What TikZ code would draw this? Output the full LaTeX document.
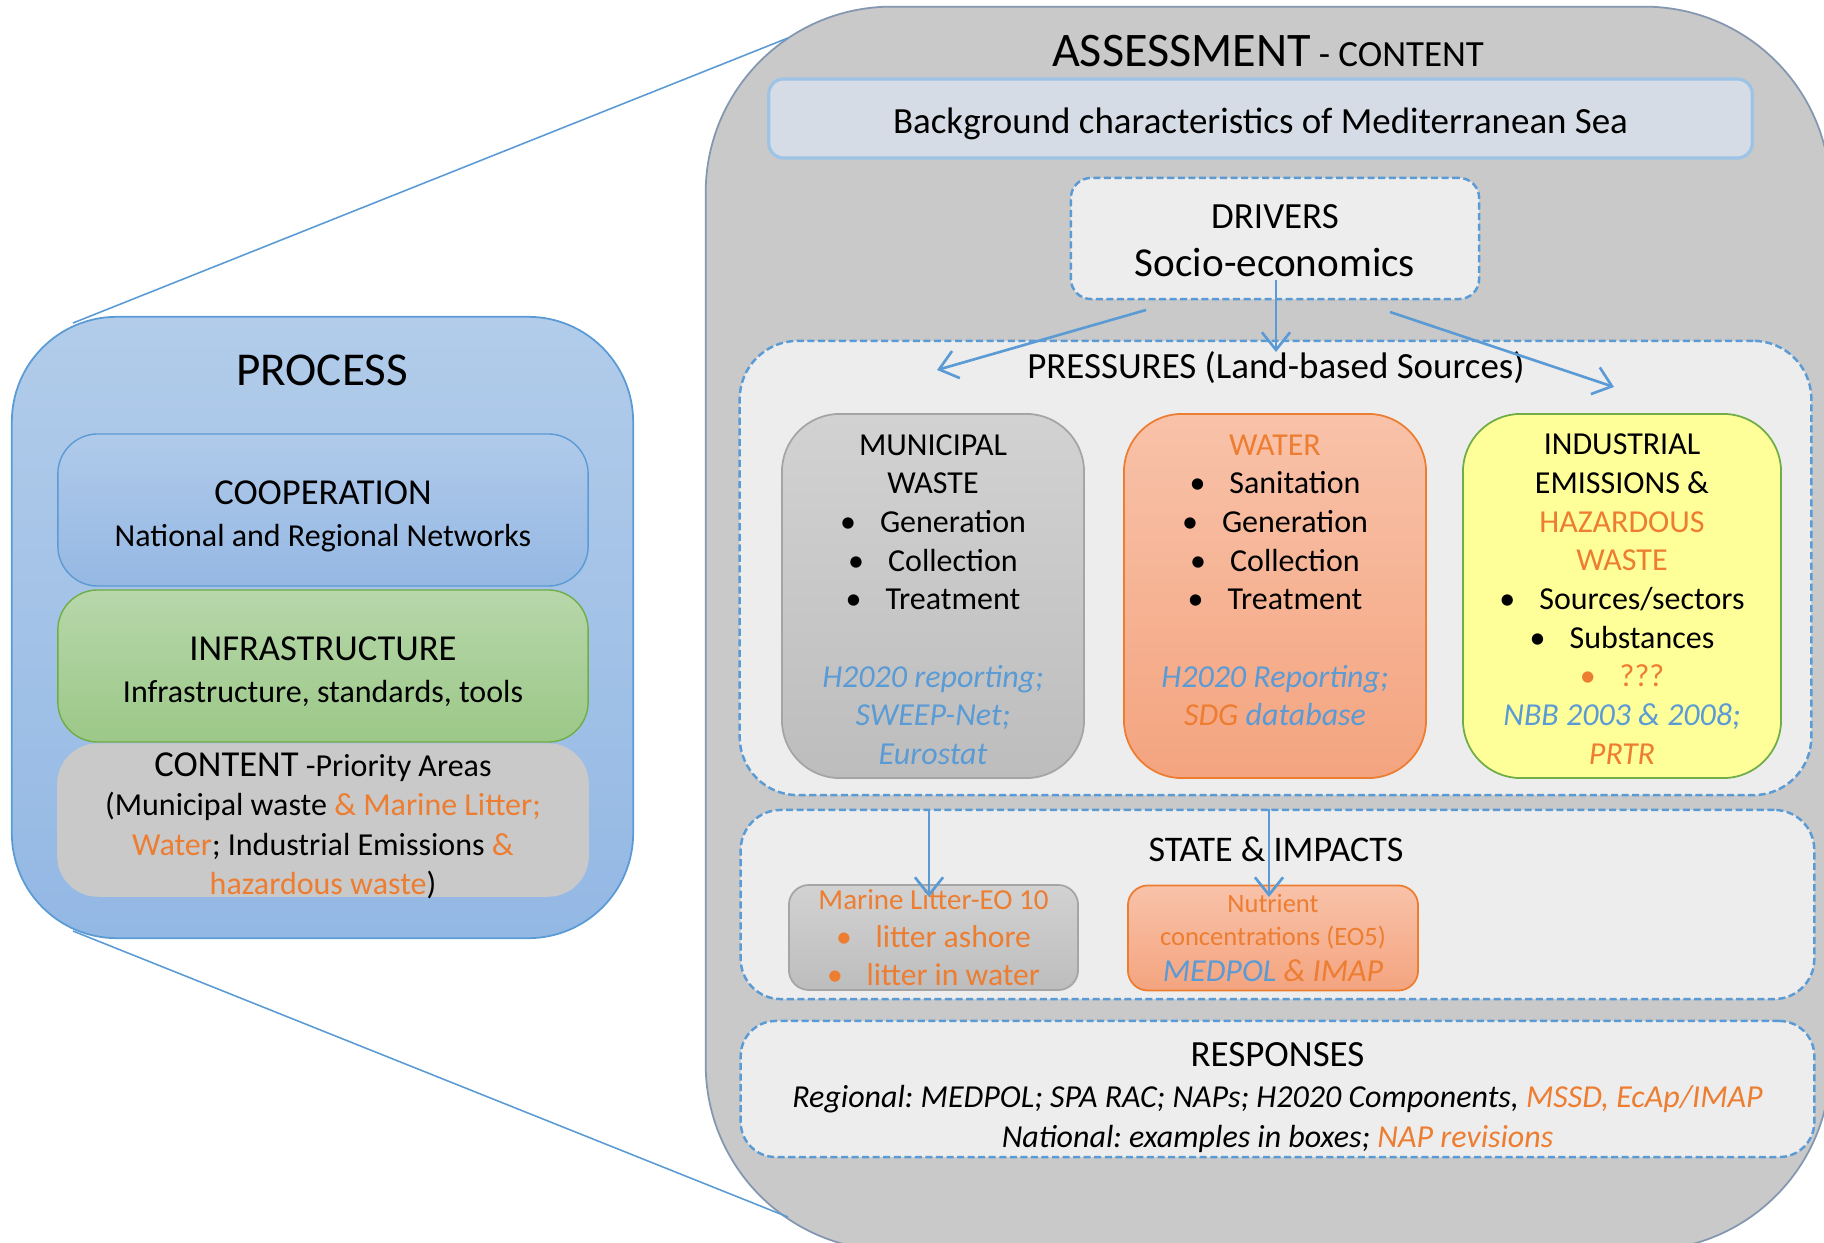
\documentclass[tikz,border=0pt]{standalone}
\usepackage{fontspec}
\setmainfont{Carlito}
\usetikzlibrary{arrows.meta}
\definecolor{accblue}{HTML}{5B9BD5}
\definecolor{accorange}{HTML}{ED7D31}
\definecolor{accgreen}{HTML}{70AD47}
\definecolor{panelgray}{HTML}{C9C9C9}
\definecolor{paneledge}{HTML}{8497B0}
\definecolor{boxgray}{HTML}{EDEDED}
\definecolor{bgfill}{HTML}{D6DCE5}
\definecolor{bgedge}{HTML}{9DC3E6}
\definecolor{procTop}{HTML}{B2CCEA}
\definecolor{procBot}{HTML}{93B8E4}
\definecolor{coopTop}{HTML}{B0CAEA}
\definecolor{coopBot}{HTML}{95B8E3}
\definecolor{greenTop}{HTML}{B7D7AA}
\definecolor{greenBot}{HTML}{9CC888}
\definecolor{grayTop}{HTML}{D2D2D2}
\definecolor{grayBot}{HTML}{BDBDBD}
\definecolor{grayEdge}{HTML}{A5A5A5}
\definecolor{orTop}{HTML}{F8C2A9}
\definecolor{orBot}{HTML}{F4A47F}
\definecolor{yellowFill}{HTML}{FFFF99}
\newcommand\fsz[2]{\fontsize{#1pt}{#2pt}\selectfont}
\newcommand\org[1]{\textcolor{accorange}{#1}}
\newcommand\blu[1]{\textcolor{accblue}{#1}}
\newcommand\bulitem{•\hspace{0.75em}}
\frenchspacing
\begin{document}
\begin{tikzpicture}[x=0.01cm,y=-0.01cm,
  conn/.style={draw=accblue,line width=0.45pt},
  flow/.style={draw=accblue,line width=0.75pt,-{Straight Barb[length=5pt,width=8pt,line width=0.75pt]}},
  sub/.style={rounded corners=0.4cm,line width=0.4pt,minimum width=5.3cm,minimum height=1.52cm,inner sep=0pt},
  dashbox/.style={fill=boxgray,draw=accblue,line width=0.7pt,dash pattern=on 2pt off 1pt,inner sep=0pt},
  srcbox/.style={rounded corners=0.58cm,line width=0.5pt,minimum width=3.02cm,minimum height=3.64cm,inner sep=0pt},
  smallbox/.style={rounded corners=0.2cm,line width=0.5pt,minimum width=2.9cm,minimum height=1.05cm,inner sep=0pt,align=center},
  title/.style={inner sep=0pt,align=center}]
\useasboundingbox (0,0) rectangle (1824,1243);
\begin{scope}
\clip (0,0) rectangle (1824,1243);
% ---------------- left panel
\node[rounded corners=1.05cm, draw=accblue, line width=0.5pt, top color=procTop, bottom color=procBot,
      minimum width=6.21cm, minimum height=6.21cm, inner sep=0pt] (process) at (322.5,627.5) {};
\node[title, font=\fsz{13.4}{16}] (processtitle) at (322,370) {PROCESS};
\node[sub, draw=accblue, top color=coopTop, bottom color=coopBot] (coop) at (323,510) {};
\node[title, font=\fsz{9.1}{11.95}] (cooptext) at ([yshift=-0.06cm]coop.center)
  {{\fsz{10.4}{11.95}COOPERATION}\\National and Regional Networks};
\node[sub, draw=accgreen, top color=greenTop, bottom color=greenBot] (infra) at (323,666) {};
\node[title, font=\fsz{9.1}{11.95}] (infratext) at ([yshift=-0.06cm]infra.center)
  {{\fsz{10.4}{11.95}INFRASTRUCTURE}\\Infrastructure, standards, tools};
\node[sub, draw=panelgray, fill=panelgray] (content) at (323,820) {};
\node[title, font=\fsz{9.1}{11.2}] (contenttext) at ([yshift=-0.06cm]content.center)
  {{\fsz{10.4}{11.2}CONTENT} -Priority Areas\\(Municipal waste \org{\& Marine Litter;}\\\org{Water}; Industrial Emissions \org{\&}\\\org{hazardous waste})};
% ---------------- right panel
\node[rounded corners=1.86cm, draw=paneledge, line width=0.5pt, fill=panelgray,
      minimum width=11.24cm, minimum height=12.43cm, inner sep=0pt] (assess) at (1268,628.5) {};
% connectors between the panels
\coordinate (ptop) at (73,323);
\coordinate (atop) at (788,38);
\coordinate (pbot) at (73,931);
\coordinate (abot) at (788,1217);
\draw[conn] (ptop) -- (atop);
\draw[conn] (pbot) -- (abot);
\node[title] (assesstitle) at (1268,51) {{\fsz{13.7}{16}ASSESSMENT} {\fsz{10.5}{12}- CONTENT}};
\node[rounded corners=0.15cm, draw=bgedge, line width=0.9pt, fill=bgfill, minimum width=9.83cm,
      minimum height=0.79cm, inner sep=0pt] (bg) at (1260.5,118.5) {};
\node[title, font=\fsz{10.5}{12}] (bgtext) at ([yshift=-0.05cm]bg.center)
  {Background characteristics of Mediterranean Sea};
\node[dashbox, rounded corners=0.2cm, minimum width=4.08cm, minimum height=1.21cm] (drivers) at (1275,238.5) {};
\node[title, font=\fsz{10.5}{13.66}] (driverstext) at ([yshift=-0.02cm]drivers.center)
  {DRIVERS\\{\fsz{11.7}{13.66}Socio-economics}};
% pressures
\node[dashbox, rounded corners=0.58cm, minimum width=10.71cm, minimum height=4.54cm] (pressures) at (1275.5,568) {};
\node[title, font=\fsz{10.5}{12}] (prestitle) at (1276,368) {PRESSURES (Land-based Sources)};
\node[srcbox, draw=grayEdge, top color=grayTop, bottom color=grayBot] (municipal) at (933,596) {};
\node[title, font=\fsz{9.1}{11}] (municipaltext) at ([yshift=-0.035cm]municipal.center)
  {MUNICIPAL\\WASTE\\\bulitem Generation\\\bulitem Collection\\\bulitem Treatment\\[11pt]\textit{\blu{H2020 reporting;}}\\\textit{\blu{SWEEP-Net;}}\\\textit{\blu{Eurostat}}};
\node[srcbox, draw=accorange, top color=orTop, bottom color=orBot] (water) at (1275,596) {};
\node[title, font=\fsz{9.1}{11}] (watertext) at ([yshift=-0.035cm]water.center)
  {\org{WATER}\\\bulitem Sanitation\\\bulitem Generation\\\bulitem Collection\\\bulitem Treatment\\[11pt]\textit{\blu{H2020 Reporting;}}\\\textit{\org{SDG} \blu{database}}\\\mbox{}};
\node[srcbox, draw=accgreen, fill=yellowFill, minimum width=3.18cm] (industrial) at (1622,596) {};
\node[title, font=\fsz{9.1}{11}] (industrialtext) at ([yshift=-0.03cm]industrial.center)
  {INDUSTRIAL\\EMISSIONS \&\\\org{HAZARDOUS}\\\org{WASTE}\\\bulitem Sources/sectors\\\bulitem Substances\\\org{\bulitem ???}\\\textit{\blu{NBB 2003 \& 2008;}}\\\textit{\org{PRTR}}};
% state & impacts
\node[dashbox, rounded corners=0.4cm, minimum width=10.73cm, minimum height=1.89cm] (state) at (1277.5,904.5) {};
\node[title, font=\fsz{10.25}{12}] (statetitle) at (1276,849) {STATE \& IMPACTS};
\node[smallbox, draw=grayEdge, top color=grayTop, bottom color=grayBot, minimum width=2.89cm,
      font=\fsz{9.0}{10.8}, text=accorange] (marine) at (933.5,937.5)
  {{\fsz{8.25}{10.8}Marine Litter-EO 10}\\\bulitem litter ashore\\\bulitem litter in water};
\node[smallbox, draw=accorange, top color=orTop, bottom color=orBot, font=\fsz{7.55}{9.4},
      text=accorange] (nutrient) at (1273,938)
  {Nutrient\\concentrations (EO5)\\[1pt]{\fsz{9.1}{9.4}\itshape\blu{MEDPOL} \& IMAP}};
% responses
\node[dashbox, rounded corners=0.35cm, minimum width=10.73cm, minimum height=1.36cm] (responses) at (1277.5,1089) {};
\node[title, font=\fsz{9.1}{11.5}] (responsestext) at ([yshift=-0.09cm]responses.center)
  {{\fsz{10.5}{11.5}RESPONSES}\\\textit{Regional: MEDPOL; SPA RAC; NAPs; H2020 Components, \org{MSSD, EcAp/IMAP}}\\\textit{National: examples in boxes; \org{NAP revisions}}};
% arrows
\coordinate (d1) at (1146,310); \coordinate (p1) at (937,370);
\coordinate (d2) at (1276,280); \coordinate (p2) at (1276,352);
\coordinate (d3) at (1390,312); \coordinate (p3) at (1614,387);
\draw[flow] (d1) -- (p1);
\draw[flow] (d2) -- (p2);
\draw[flow] (d3) -- (p3);
\coordinate (s1) at (929,809); \coordinate (m1) at (929,897);
\coordinate (s2) at (1269,809); \coordinate (n1) at (1269,897);
\draw[flow] (s1) -- (m1);
\draw[flow] (s2) -- (n1);
\end{scope}
\end{tikzpicture}
\end{document}
